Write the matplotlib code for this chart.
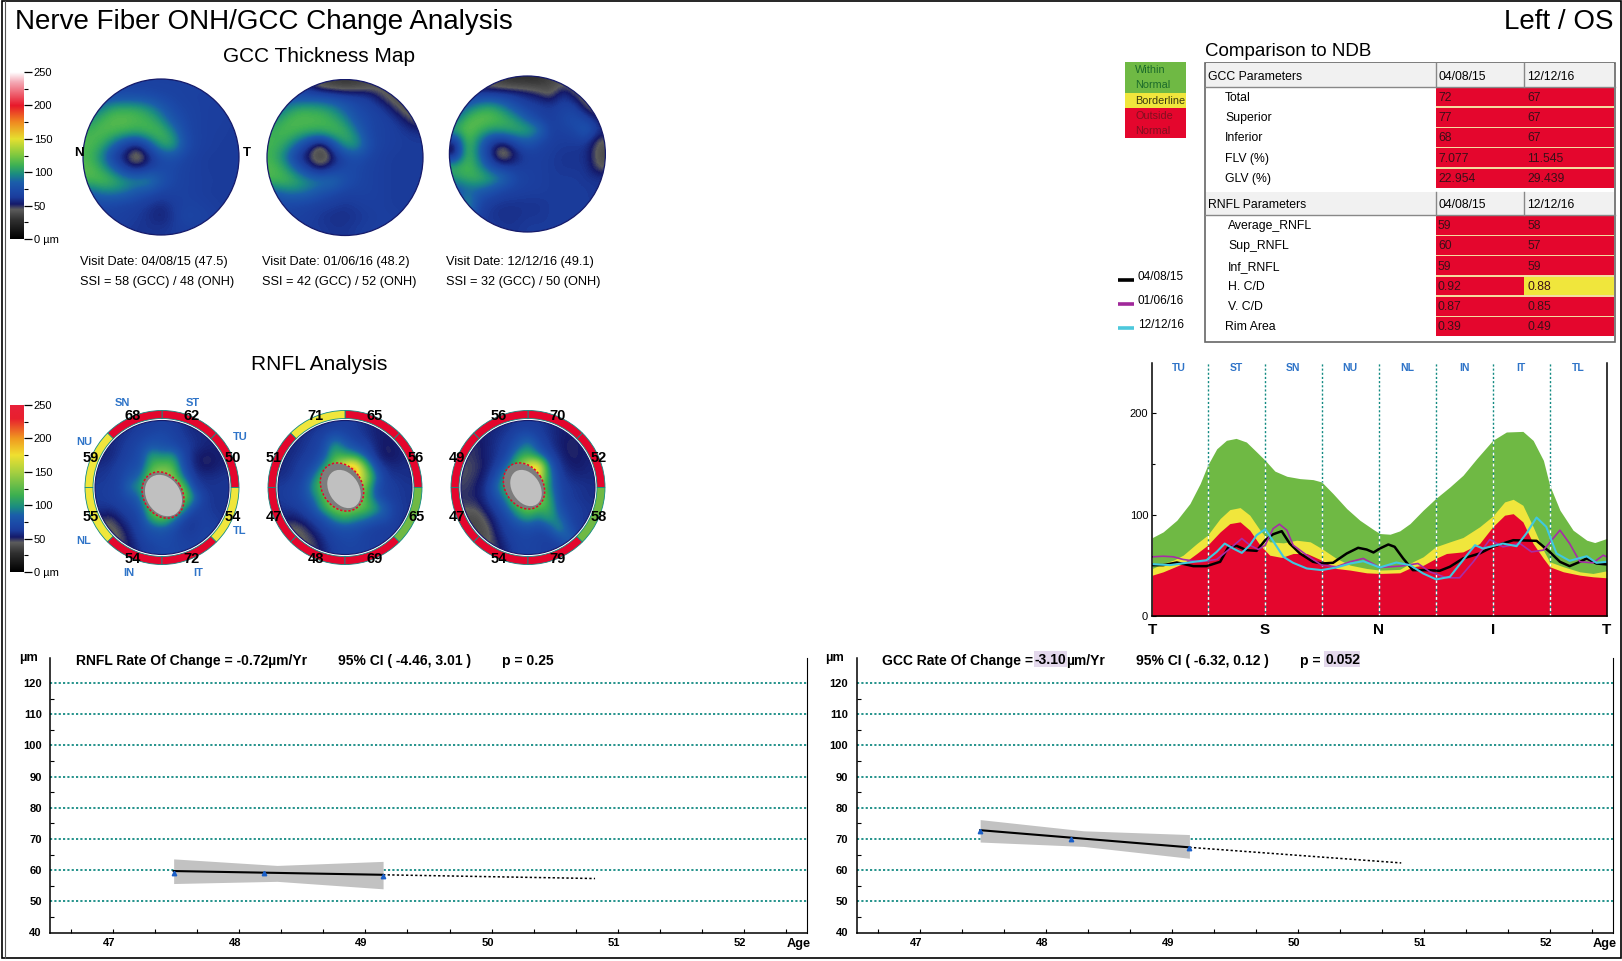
import numpy as np
import matplotlib
matplotlib.use('Agg')
import matplotlib.pyplot as plt
from matplotlib.colors import LinearSegmentedColormap, Normalize
from matplotlib.patches import Circle, Wedge, Ellipse, Rectangle
from matplotlib.transforms import ScaledTranslation

plt.rcParams['font.family'] = ['Liberation Sans', 'DejaVu Sans']

W, H = 1622, 961

# thickness maps, rows top to bottom, um
gcc_map_1 = [
    [66, 66, 66, 66, 66, 66, 66, 66, 66, 66, 66, 66, 66],
    [70, 72, 75, 76, 76, 74, 70, 68, 66, 65, 65, 64, 64],
    [80, 95, 108, 110, 108, 100, 85, 72, 68, 66, 64, 64, 64],
    [100, 112, 118, 118, 115, 112, 100, 80, 70, 66, 64, 64, 62],
    [112, 116, 112, 108, 105, 112, 115, 98, 72, 66, 64, 63, 62],
    [115, 108, 88, 64, 52, 76, 105, 108, 76, 66, 64, 62, 62],
    [112, 96, 64, 50, 30, 52, 72, 76, 68, 64, 62, 62, 62],
    [118, 108, 88, 64, 56, 66, 72, 70, 66, 64, 62, 62, 62],
    [112, 116, 112, 102, 98, 100, 80, 70, 66, 64, 63, 62, 62],
    [80, 90, 92, 88, 78, 72, 66, 66, 66, 64, 62, 62, 62],
    [68, 70, 68, 66, 64, 60, 56, 62, 66, 66, 64, 62, 62],
    [64, 66, 66, 64, 62, 58, 54, 60, 70, 68, 66, 64, 62],
    [62, 64, 64, 62, 60, 60, 60, 62, 64, 64, 64, 62, 62],
]
gcc_map_2 = [
    [66, 64, 60, 50, 36, 32, 30, 32, 36, 40, 40, 40, 40],
    [70, 72, 74, 76, 76, 72, 68, 66, 62, 48, 38, 36, 36],
    [80, 95, 108, 108, 106, 98, 84, 72, 68, 64, 52, 38, 36],
    [100, 112, 116, 116, 115, 110, 98, 78, 70, 66, 64, 54, 42],
    [110, 114, 110, 105, 105, 112, 112, 92, 70, 66, 64, 62, 60],
    [112, 105, 85, 60, 36, 72, 102, 104, 74, 66, 64, 62, 62],
    [110, 92, 60, 46, 30, 48, 68, 74, 68, 64, 62, 62, 62],
    [116, 106, 84, 62, 50, 64, 72, 70, 66, 64, 62, 62, 62],
    [112, 114, 108, 98, 94, 92, 76, 70, 66, 64, 62, 62, 62],
    [78, 88, 90, 86, 76, 70, 66, 66, 66, 64, 62, 62, 62],
    [68, 70, 68, 66, 64, 62, 60, 62, 64, 64, 62, 62, 62],
    [66, 66, 66, 64, 60, 58, 58, 60, 62, 64, 64, 62, 62],
    [64, 64, 64, 62, 62, 60, 60, 62, 64, 64, 64, 62, 62],
]
gcc_map_3 = [
    [40, 40, 40, 36, 30, 28, 28, 28, 35, 40, 40, 40, 40],
    [60, 60, 62, 62, 62, 60, 56, 50, 40, 62, 45, 36, 32],
    [70, 85, 100, 105, 92, 75, 66, 64, 62, 66, 66, 42, 36],
    [85, 112, 120, 118, 112, 100, 80, 66, 62, 70, 74, 66, 50],
    [110, 120, 112, 102, 105, 110, 108, 95, 64, 66, 70, 85, 60],
    [50, 118, 92, 62, 52, 70, 82, 70, 64, 62, 62, 62, 40],
    [42, 118, 88, 54, 30, 50, 64, 64, 62, 60, 60, 58, 38],
    [110, 115, 100, 72, 60, 62, 64, 64, 62, 60, 60, 60, 40],
    [100, 110, 112, 105, 92, 72, 66, 64, 62, 62, 62, 60, 60],
    [76, 85, 85, 78, 68, 66, 64, 64, 62, 62, 62, 62, 60],
    [70, 105, 70, 62, 60, 60, 60, 60, 62, 62, 62, 62, 60],
    [62, 100, 64, 60, 58, 58, 60, 60, 62, 62, 62, 62, 62],
    [62, 62, 62, 62, 60, 60, 62, 62, 62, 62, 62, 62, 62],
]
rnfl_map_1 = [
    [58, 58, 58, 60, 62, 64, 66, 64, 60, 56, 56, 56, 56],
    [55, 56, 58, 62, 66, 70, 72, 68, 62, 58, 56, 56, 54],
    [54, 56, 60, 66, 72, 80, 76, 72, 66, 60, 56, 54, 54],
    [54, 56, 62, 68, 74, 108, 96, 104, 72, 56, 50, 52, 54],
    [58, 60, 66, 72, 76, 118, 130, 125, 76, 58, 50, 52, 56],
    [60, 62, 68, 78, 90, 140, 150, 140, 90, 62, 58, 58, 60],
    [62, 64, 68, 95, 100, 150, 150, 150, 135, 70, 60, 60, 60],
    [62, 64, 68, 75, 90, 150, 150, 150, 140, 100, 64, 60, 60],
    [60, 60, 64, 68, 78, 130, 150, 150, 110, 72, 64, 60, 60],
    [52, 46, 58, 64, 70, 110, 130, 100, 72, 60, 66, 62, 60],
    [42, 40, 48, 60, 70, 78, 82, 74, 62, 60, 66, 66, 60],
    [44, 42, 44, 55, 66, 72, 74, 70, 66, 64, 68, 66, 62],
    [52, 48, 48, 52, 62, 66, 70, 70, 68, 66, 66, 64, 62],
]
rnfl_map_2 = [
    [56, 56, 56, 58, 60, 62, 64, 62, 58, 54, 54, 54, 56],
    [55, 56, 58, 62, 68, 78, 70, 64, 60, 54, 52, 54, 56],
    [55, 56, 60, 64, 72, 105, 85, 72, 66, 56, 50, 54, 56],
    [56, 58, 62, 66, 78, 118, 110, 105, 78, 58, 50, 52, 56],
    [56, 60, 66, 72, 100, 135, 190, 205, 125, 70, 58, 56, 58],
    [58, 62, 68, 90, 125, 170, 180, 190, 150, 90, 62, 60, 58],
    [62, 66, 72, 105, 130, 160, 160, 160, 130, 75, 66, 62, 60],
    [62, 66, 72, 90, 120, 150, 150, 150, 120, 78, 66, 62, 60],
    [60, 62, 66, 78, 112, 135, 140, 135, 125, 105, 80, 64, 60],
    [55, 52, 60, 66, 76, 100, 112, 100, 92, 80, 76, 62, 60],
    [46, 42, 46, 58, 66, 72, 76, 74, 68, 64, 62, 62, 60],
    [48, 42, 42, 48, 60, 68, 70, 70, 66, 64, 64, 62, 60],
    [54, 50, 46, 46, 56, 64, 68, 68, 66, 64, 62, 62, 60],
]
rnfl_map_3 = [
    [54, 54, 54, 56, 58, 62, 62, 62, 58, 54, 54, 54, 54],
    [52, 52, 54, 58, 62, 72, 76, 66, 60, 54, 52, 52, 54],
    [48, 50, 54, 60, 66, 80, 100, 74, 62, 54, 50, 52, 54],
    [48, 50, 54, 60, 70, 105, 115, 95, 70, 58, 50, 52, 54],
    [46, 48, 54, 64, 88, 125, 180, 200, 90, 62, 54, 52, 56],
    [46, 50, 56, 76, 110, 150, 175, 180, 100, 66, 58, 56, 56],
    [48, 52, 60, 90, 115, 150, 150, 150, 100, 70, 62, 60, 58],
    [50, 52, 60, 76, 100, 140, 150, 150, 110, 72, 62, 60, 58],
    [46, 46, 56, 66, 84, 115, 135, 120, 118, 76, 66, 62, 60],
    [38, 38, 48, 60, 70, 90, 104, 88, 108, 90, 68, 62, 60],
    [36, 36, 42, 56, 66, 70, 74, 70, 74, 105, 76, 62, 60],
    [40, 38, 40, 52, 62, 68, 68, 66, 64, 72, 90, 66, 62],
    [50, 46, 44, 48, 58, 66, 68, 66, 64, 62, 70, 68, 62],
]

visit_dates = ['04/08/15', '01/06/16', '12/12/16']
visit_ages = ['47.5', '48.2', '49.1']
ssi_gcc = [58, 42, 32]
ssi_onh = [48, 52, 50]

# ring sectors counter clockwise from 3 o'clock: TU ST SN NU NL IN IT TL
sector_names = ['TU', 'ST', 'SN', 'NU', 'NL', 'IN', 'IT', 'TL']
ring_values = [
    [50, 62, 68, 59, 55, 54, 72, 54],
    [56, 65, 71, 51, 47, 48, 69, 65],
    [52, 70, 56, 49, 47, 54, 79, 58],
]
ring_status = [
    ['r', 'r', 'r', 'y', 'y', 'r', 'r', 'y'],
    ['r', 'r', 'y', 'r', 'r', 'r', 'r', 'g'],
    ['r', 'r', 'r', 'r', 'r', 'r', 'r', 'g'],
]

gcc_rows = ['Total', 'Superior', 'Inferior', 'FLV (%)', 'GLV (%)']
gcc_first = ['72', '77', '68', '7.077', '22.954']
gcc_last = ['67', '67', '67', '11.545', '29.439']
rnfl_rows = ['Average_RNFL', 'Sup_RNFL', 'Inf_RNFL', 'H. C/D', 'V. C/D', 'Rim Area']
rnfl_first = ['59', '60', '59', '0.92', '0.87', '0.39']
rnfl_last = ['58', '57', '59', '0.88', '0.85', '0.49']
rnfl_last_status = ['r', 'r', 'r', 'y', 'r', 'r']

# TSNIT profile, x in sector widths (8 sectors)
green_x = [.03, .22, .46, .69, .87, 1, 1.16, 1.33, 1.5, 1.68, 1.86, 2.01, 2.18, 2.39, 2.62, 2.85, 3, 3.2, 3.44, 3.67,
           3.91, 4.02, 4.2, 4.37, 4.55, 4.78, 5, 5.25, 5.48, 5.72, 6, 6.24, 6.53, 6.71, 6.89, 7, 7.18, 7.41, 7.65, 7.79, 8]
green_top = [77.4, 83, 94.5, 111, 130.7, 148.7, 165, 173.4, 175.3, 171.7, 161.9, 153.6, 143, 137.9, 135.6, 134.6,
             132.3, 120.8, 106, 94.5, 85.3, 81.4, 80.7, 84, 91.2, 104.4, 115.9, 127.4, 138.9, 155.3, 173.3, 181.6,
             182.2, 173.3, 153.6, 129, 104.4, 84.7, 74.8, 72.5, 76.5]
yellow_x = [.03, .22, .4, .57, .81, 1, 1.22, 1.39, 1.57, 1.74, 1.92, 2.09, 2.33, 2.56, 2.8, 3, 3.26, 3.5, 3.79,
            4.02, 4.37, 4.6, 4.78, 5, 5.25, 5.48, 5.77, 6, 6.21, 6.36, 6.53, 6.71, 6.89, 7, 7.24, 7.53, 7.76, 8]
yellow_top = [46.9, 51.8, 55.1, 60, 71.5, 79.8, 96.2, 105, 107, 99.5, 84.7, 73.2, 72.2, 74.8, 73.2, 66.6, 56.8, 50.2,
              46.9, 45.3, 46, 53.5, 58.4, 68.3, 73.2, 77.5, 88, 98.5, 112.6, 115.2, 109.3, 88, 65, 53.5, 48.6, 43.6,
              42, 44.6]
red_x = [.03, .22, .57, .81, 1, 1.22, 1.39, 1.57, 1.74, 1.92, 2.09, 2.3, 2.5, 2.74, 3, 3.26, 3.5, 3.79,
         4.02, 4.37, 4.6, 4.78, 5, 5.19, 5.48, 5.77, 6, 6.21, 6.36, 6.53, 6.71, 6.89, 7, 7.24, 7.53, 7.76, 8]
red_top = [40.3, 43.6, 51.8, 61.7, 69.9, 83, 91.2, 92.9, 84.7, 69.9, 60, 57.8, 61.7, 61.7, 55.1, 46.9, 45.3, 42.6,
           42, 42.6, 48.6, 50, 56.8, 61.7, 63.3, 71.5, 88, 99.5, 101, 92.9, 71.5, 56.8, 48.6, 43.6, 40.3, 38.7, 37.7]
black_x = [.03, .22, .46, .75, .98, 1.22, 1.36, 1.51, 1.68, 1.86, 2.01, 2.15, 2.3, 2.44, 2.62, 2.85, 3, 3.2, 3.44,
           3.64, 3.79, 3.91, 4.02, 4.17, 4.28, 4.43, 4.6, 4.84, 5.07, 5.25, 5.48, 5.77, 6, 6.36, 6.77, 7, 7.18,
           7.35, 7.53, 7.65, 7.82, 8]
black_y = [50.2, 50.2, 52.8, 49.2, 49.2, 53.5, 67.6, 69.2, 65, 64.3, 74.8, 80.7, 83.7, 71.5, 61.7, 53.5, 51.8, 52.5,
           61.7, 67.3, 65.6, 62.7, 66.6, 70.6, 68.3, 56.8, 45.3, 45.3, 44.6, 48.6, 56.8, 61.7, 68.3, 74.8, 74.2,
           63.3, 53.5, 49.2, 53.5, 56.8, 51.8, 50.9]
purple_x = [.03, .22, .4, .57, .87, 1.16, 1.36, 1.6, 1.74, 1.89, 2.01, 2.15, 2.26, 2.39, 2.5, 2.74, 3, 3.26, 3.5,
            3.73, 4.02, 4.37, 4.69, 4.9, 5.19, 5.42, 5.66, 5.95, 6.18, 6.48, 6.68, 6.89, 7.18, 7.35, 7.53, 7.76,
            7.94, 8]
purple_y = [58.4, 59, 58.4, 55.8, 53.5, 55.8, 65, 76.5, 69.9, 65.6, 69.9, 86.3, 90.6, 84.7, 69.9, 60, 50.2, 48.6,
            53.5, 56.8, 47.9, 49.2, 51.8, 43.6, 37.7, 37.7, 53.5, 75.5, 68.3, 71.5, 63.3, 65, 84.7, 71.5, 53.5,
            52.5, 60, 58.4]
cyan_x = [.03, .34, .63, .98, 1.16, 1.3, 1.45, 1.6, 1.74, 1.86, 2.01, 2.12, 2.33, 2.5, 2.74, 3, 3.26, 3.5, 3.73,
          4.02, 4.31, 4.55, 4.78, 5.01, 5.25, 5.48, 5.69, 5.83, 6.18, 6.42, 6.59, 6.77, 6.94, 7.12, 7.35, 7.65,
          7.82, 8]
cyan_y = [51.2, 50.2, 52.5, 55.1, 63.3, 71.5, 66.6, 62.3, 69.9, 79.8, 85.7, 76.5, 58.4, 52.5, 46.9, 45.3, 47.9,
          51.8, 54.1, 47.9, 52.8, 50.2, 42, 36.1, 38.7, 55.1, 69.9, 66.6, 71.5, 68.9, 81.4, 97.2, 88, 61.7, 54.5,
          59, 52.5, 53.5]
sector_labels = ['TU', 'ST', 'SN', 'NU', 'NL', 'IN', 'IT', 'TL']

# rate of change trends
trend_ticks = [120, 110, 100, 90, 80, 70, 60, 50, 40]
ages = [47.48, 48.2, 49.14]
rnfl_points = [59, 59, 58]
rnfl_line_x = [47.48, 49.14]
rnfl_line_y = [59.7, 58.5]
rnfl_proj_x = [49.14, 50.82]
rnfl_proj_y = [58.5, 57.3]
rnfl_band_x = [47.48, 48.3, 49.14]
rnfl_band_low = [55.7, 56.4, 54.0]
rnfl_band_high = [63.6, 61.5, 62.8]
gcc_points = [72.5, 70, 67]
gcc_line_x = [47.48, 49.14]
gcc_line_y = [72.8, 67.3]
gcc_proj_x = [49.14, 50.82]
gcc_proj_y = [67.3, 62.3]
gcc_band_x = [47.48, 48.3, 49.14]
gcc_band_low = [69, 67.6, 63.8]
gcc_band_high = [76.2, 72.6, 71.4]

RED = '#e4062d'
YELLOW = '#f0e63c'
GREEN = '#6fb944'
TEAL = '#128a82'
BLUE = '#2f74c8'
status_colors = {'r': RED, 'y': YELLOW, 'g': GREEN}

low_stops = [(0, '#000000'), (28 / 250, '#303030'), (44 / 250, '#5c5c5c'), (52 / 250, '#151a6a'),
             (62 / 250, '#1b3c9c'), (72 / 250, '#1c4aa8'), (85 / 250, '#1b5eaa'), (97 / 250, '#1a8c82')]
gcc_cmap = LinearSegmentedColormap.from_list('gcc', low_stops + [
    (110 / 250, '#3cb055'), (125 / 250, '#7cc840'),
    (150 / 250, '#e6e030'), (175 / 250, '#f08a20'), (200 / 250, '#e8182a'), (235 / 250, '#f4a8b4'), (1, '#ffffff')])
rnfl_cmap = LinearSegmentedColormap.from_list('rnfl', low_stops + [
    (115 / 250, '#3cb050'), (150 / 250, '#a8d040'),
    (175 / 250, '#f0e030'), (200 / 250, '#f09a20'), (230 / 250, '#e8202e'), (1, '#e8203a')])
norm = Normalize(0, 250)

fig = plt.figure(figsize=(W / 100, H / 100), dpi=100, facecolor='white')


def px_axes(x0, y0, x1, y1, **kw):
    return fig.add_axes([x0 / W, 1 - y1 / H, (x1 - x0) / W, (y1 - y0) / H], **kw)


def colorbar(x0, x1, y_top, y_zero, cmap):
    ax = px_axes(x0, y_top, x1, y_zero)
    ax.imshow(np.linspace(250, 0, 256).reshape(-1, 1), cmap=cmap, norm=norm, aspect='auto',
              extent=(0, 1, 0, 250))
    ax.set_xticks([])
    ax.yaxis.tick_right()
    ax.set_yticks([0, 50, 100, 150, 200, 250], ['0 µm', '50', '100', '150', '200', '250'], fontsize=8)
    ax.set_yticks([25, 75, 125, 175, 225], minor=True)
    ax.tick_params(axis='y', length=6, width=0.9, pad=1)
    ax.tick_params(axis='y', which='minor', length=3, width=0.8)
    for s in ['top', 'bottom', 'right', 'left']:
        ax.spines[s].set_visible(False)


def gcc_panel(cx, cy, r, data):
    ax = px_axes(cx - r - 1, cy - r - 1, cx + r + 1, cy + r + 1)
    im = ax.imshow(data, cmap=gcc_cmap, norm=norm, interpolation='bicubic', extent=(-r, r, r, -r), aspect='auto')
    im.set_clip_path(Circle((0, 0), r, transform=ax.transData))
    ax.set_xlim(-r - 1, r + 1)
    ax.set_ylim(r + 1, -r - 1)
    ax.add_patch(Circle((0, 0), r, facecolor='none', edgecolor='#151a6a', lw=0.9))
    ax.axis('off')


def rnfl_panel(cx, cy, data, values, status, disc):
    R = 78
    ax = px_axes(cx - R, cy - R, cx + R, cy + R)
    im = ax.imshow(data, cmap=rnfl_cmap, norm=norm, interpolation='bicubic', extent=(-67, 67, 67, -67), aspect='auto')
    im.set_clip_path(Circle((0, 0), 67, transform=ax.transData))
    ax.set_xlim(-R, R)
    ax.set_ylim(R, -R)
    ax.axis('off')
    ax.add_patch(Circle((0, 0), 67, facecolor='none', edgecolor='#151a6a', lw=0.8))
    for i, st in enumerate(status):
        # y axis is inverted so angles run clockwise on screen
        ax.add_patch(Wedge((0, 0), 77, -45 * (i + 1), -45 * i, width=8, facecolor=status_colors[st],
                           edgecolor=TEAL, linewidth=0.6))
    dx, dy, long_ax, short_ax, rim, shift = disc
    ax.add_patch(Ellipse((dx, dy), long_ax, short_ax, angle=58, facecolor='#7d7d7d', edgecolor='none'))
    ax.add_patch(Ellipse((dx + shift, dy + shift), long_ax - rim, short_ax - rim, angle=58, facecolor='#c0c0c0',
                         edgecolor='none'))
    ax.add_patch(Ellipse((dx, dy), long_ax + 1, short_ax + 1, angle=58, facecolor='none', edgecolor=RED,
                         linewidth=1.1, linestyle=(0, (1.5, 1.2))))
    for i, v in enumerate(values):
        a = np.radians(22.5 + 45 * i)
        over.text(cx + 77 * np.cos(a), cy - 77 * np.sin(a), str(v), ha='center', va='center',
                  fontsize=10.5, fontweight='bold')


def trend_panel(x0, x1, points, lx, ly, px_, py_, bx, blow, bhigh):
    ax = px_axes(x0, 658, x1, 932.5)
    ax.set_xlim(46.5, 52.5)
    ax.set_ylim(40, 128)
    ax.set_yticks(trend_ticks, [str(v) for v in trend_ticks], fontsize=8, fontweight='bold')
    ax.set_yticks(np.arange(45, 125, 10), minor=True)
    ax.set_xticks(range(47, 53), [str(v) for v in range(47, 53)], fontsize=8, fontweight='bold')
    ax.set_xticks([a + b for a in range(46, 53) for b in (1 / 3, 2 / 3) if 46.5 < a + b < 52.5], minor=True)
    ax.tick_params(axis='both', which='both', direction='in', length=3, width=0.8, pad=4)
    ax.tick_params(axis='y', which='major', length=0, pad=6)
    ax.tick_params(axis='x', which='major', pad=4)
    ax.spines['top'].set_visible(False)
    ax.spines['right'].set_linewidth(0.8)
    for s in ['left', 'bottom']:
        ax.spines[s].set_linewidth(1.1)
    for lab in ax.get_xticklabels():
        lab.set_transform(lab.get_transform() + ScaledTranslation(-0.04, 0, fig.dpi_scale_trans))
    for v in trend_ticks[:-1]:
        ax.axhline(v, color=TEAL, lw=1.3, ls=(0, (1.2, 1.2)), zorder=1)
    ax.fill_between(bx, blow, bhigh, color='#c2c2c2', lw=0, zorder=2)
    ax.plot(lx, ly, color='black', lw=1.5, zorder=3)
    ax.plot(px_, py_, color='black', lw=1.1, ls=(0, (1.5, 1.5)), zorder=3)
    ax.plot(ages, points, ls='none', marker='^', ms=3.2, color='#1a5fc8', zorder=4)
    ax.patch.set_alpha(0)
    return ax


# overlay in pixel coords for the text, table and legend
over = px_axes(0, 0, W, H, zorder=5)
over.set_xlim(0, W)
over.set_ylim(H, 0)
over.axis('off')
over.patch.set_alpha(0)

colorbar(10, 24, 72, 239, gcc_cmap)
colorbar(10, 24, 405, 572, rnfl_cmap)

for cx, cy, data in [(161, 157, gcc_map_1), (345, 157.5, gcc_map_2), (527.4, 154, gcc_map_3)]:
    gcc_panel(cx, cy, 78, data)

rnfl_maps = [rnfl_map_1, rnfl_map_2, rnfl_map_3]
rnfl_centers = [(162, 487.5), (345, 487.5), (528, 487.5)]
discs = [(1, 7.5, 48, 38, 4, 0.5), (-3, -0.5, 50, 39, 9, 2), (-4, -1.5, 48, 37, 9, 2)]
for i in range(3):
    rnfl_panel(rnfl_centers[i][0], rnfl_centers[i][1], rnfl_maps[i], ring_values[i], ring_status[i], discs[i])

for x, name in [(79, 'N'), (246.5, 'T')]:
    over.text(x, 153, name, ha='center', va='center', fontsize=9.5, fontweight='bold')

over.text(15, 22, 'Nerve Fiber ONH/GCC Change Analysis', fontsize=20, va='center')
over.text(1613, 22, 'Left / OS', fontsize=20, va='center', ha='right')
over.text(319, 57, 'GCC Thickness Map', fontsize=15, va='center', ha='center')
over.text(319, 365, 'RNFL Analysis', fontsize=15, va='center', ha='center')

for i, x in enumerate([80, 262.5, 445.5]):
    over.text(x, 261.5, f'Visit Date: {visit_dates[i]} ({visit_ages[i]})', fontsize=9.2, va='center')
    over.text(x, 281.5, f'SSI = {ssi_gcc[i]} (GCC) / {ssi_onh[i]} (ONH)', fontsize=9.2, va='center')

sector_pos = {'SN': (122, 403), 'ST': (193, 403), 'TU': (240, 437), 'TL': (240, 531),
              'NU': (84, 442), 'NL': (84, 541), 'IN': (129, 573), 'IT': (198, 573)}
for name in sector_names:
    over.text(sector_pos[name][0], sector_pos[name][1], name, color=BLUE, fontsize=8, fontweight='bold',
              ha='center', va='center')

# status legend
over.add_patch(Rectangle((1125, 62.3), 61, 30.4, facecolor=GREEN, edgecolor='none'))
over.add_patch(Rectangle((1125, 92.7), 61, 15.3, facecolor=YELLOW, edgecolor='none'))
over.add_patch(Rectangle((1125, 108), 61, 30.3, facecolor=RED, edgecolor='none'))
over.text(1135, 70, 'Within', color='#1c6b2a', fontsize=7.8, va='center')
over.text(1135, 85.5, 'Normal', color='#1c6b2a', fontsize=7.8, va='center')
over.text(1135, 100.5, 'Borderline', color='#3a3a10', fontsize=7.8, va='center')
over.text(1135, 116, 'Outside', color='#801020', fontsize=7.8, va='center')
over.text(1135, 131, 'Normal', color='#801020', fontsize=7.8, va='center')

# visit line legend
for y, name, col in zip([280, 304, 328], visit_dates, ['black', '#a0289a', '#4cc8dc']):
    over.plot([1118, 1134], [y, y], color=col, lw=2.6, solid_capstyle='butt')
    over.text(1138, y - 3.5, name, fontsize=8.5, va='center')

# comparison table
over.text(1205, 51.5, 'Comparison to NDB', fontsize=13.5, va='center')
TX0, TX1, TX2, TX3 = 1205, 1436, 1524, 1615
over.add_patch(Rectangle((TX0, 62.7), TX3 - TX0, 279, facecolor='white', edgecolor='#666666', lw=1.2, zorder=1))


def table_header(y0, y1, name):
    over.add_patch(Rectangle((TX0 + 1, y0), TX3 - TX0 - 2, y1 - y0, facecolor='#f1f1f1', edgecolor='none', zorder=2))
    over.plot([TX0, TX3], [y1, y1], color='#888888', lw=1, zorder=3)
    for x in (TX1, TX2):
        over.plot([x, x], [y0, y1], color='#888888', lw=1, zorder=3)
    yc = (y0 + y1) / 2 + 1.5
    over.text(1208.5, yc, name, fontsize=8.8, va='center', zorder=4)
    over.text(1438.5, yc, visit_dates[0], fontsize=8.8, va='center', zorder=4)
    over.text(1527, yc, visit_dates[2], fontsize=8.8, va='center', zorder=4)


def table_rows(y_first, rows, first, last, last_status, label_x):
    over.add_patch(Rectangle((TX1, y_first - 9.3), TX3 - 1 - TX1, 20.3 * len(rows) - 1.4, facecolor='#f3dca0',
                             edgecolor='none', zorder=1.5))
    for i, name in enumerate(rows):
        y = y_first + i * 20.3
        over.add_patch(Rectangle((TX1, y - 9.3), TX2 - TX1, 18.9, facecolor=RED, edgecolor='none', zorder=2))
        over.add_patch(Rectangle((TX2, y - 9.3), TX3 - 1 - TX2, 18.9, facecolor=status_colors[last_status[i]],
                                 edgecolor='none', zorder=2))
        lx = label_x[i] if isinstance(label_x, list) else label_x
        over.text(lx, y + 1, name, fontsize=8.8, va='center', zorder=4)
        over.text(1438, y + 1, first[i], fontsize=8.8, va='center', color='#3a1018', zorder=4)
        over.text(1527, y + 1, last[i], fontsize=8.8, va='center', color='#3a1018', zorder=4)


table_header(63.3, 87.3, 'GCC Parameters')
table_rows(96.7, gcc_rows, gcc_first, gcc_last, ['r'] * 5, 1225)
table_header(192, 215, 'RNFL Parameters')
table_rows(225, rnfl_rows, rnfl_first, rnfl_last, rnfl_last_status, [1228] * 5 + [1225])

# TSNIT profile
tsnit = px_axes(1152.3, 362.7, 1606.7, 616)
tsnit.set_xlim(0.03, 8)
tsnit.set_ylim(0, 250)
tsnit.fill_between(green_x, 0, green_top, color=GREEN, lw=0)
tsnit.fill_between(yellow_x, 0, yellow_top, color=YELLOW, lw=0)
tsnit.fill_between(red_x, 0, red_top, color=RED, lw=0)
for i in range(1, 8):
    tsnit.plot([i, i], [0, 250], color=TEAL, lw=1, ls=(0, (1.5, 1.5)))
    top = np.interp(i, green_x, green_top)
    tsnit.plot([i, i], [0, top], color='white', lw=1, ls=(0, (2, 2)))
for i, name in enumerate(sector_labels):
    tsnit.text(i + 0.5, 245, name, color=BLUE, fontsize=7.5, fontweight='bold', ha='center', va='center')
tsnit.plot(black_x, black_y, color='black', lw=1.8, solid_joinstyle='round')
tsnit.plot(purple_x, purple_y, color='#a82ca6', lw=1.2, solid_joinstyle='round')
tsnit.plot(cyan_x, cyan_y, color='#3fc8e0', lw=1.5, solid_joinstyle='round')
tsnit.set_yticks([0, 100, 200], ['0', '100', '200'], fontsize=8)
tsnit.set_yticks([50, 150], minor=True)
tsnit.set_xticks([0.03, 2, 4, 6, 8], ['T', 'S', 'N', 'I', 'T'], fontsize=11, fontweight='bold')
tsnit.tick_params(axis='x', length=0, pad=5)
tsnit.tick_params(axis='y', direction='in', length=3, width=0.8, pad=3)
tsnit.tick_params(axis='y', which='minor', direction='in', length=2, width=0.8)
tsnit.spines['top'].set_visible(False)
for s in ['left', 'right', 'bottom']:
    tsnit.spines[s].set_linewidth(1.1)

# rate of change plots
trend_panel(50, 807, rnfl_points, rnfl_line_x, rnfl_line_y, rnfl_proj_x, rnfl_proj_y,
            rnfl_band_x, rnfl_band_low, rnfl_band_high)
trend_panel(856.6, 1613, gcc_points, gcc_line_x, gcc_line_y, gcc_proj_x, gcc_proj_y,
            gcc_band_x, gcc_band_low, gcc_band_high)


def bold(x, y, s, size=10):
    over.text(x, y, s, fontsize=size, fontweight='bold', va='center')


bold(19, 658, 'µm', 9.2)
bold(76, 660.5, 'RNFL Rate Of Change = -0.72µm/Yr')
bold(338, 660.5, '95% CI ( -4.46, 3.01 )')
bold(501.5, 660.5, 'p = 0.25')
bold(787, 944, 'Age', 9.2)
bold(825, 658, 'µm', 9.2)
over.add_patch(Rectangle((1034, 651), 32.5, 16, facecolor='#e4d8ec', edgecolor='none', zorder=0))
over.add_patch(Rectangle((1324, 651), 36, 16, facecolor='#e4d8ec', edgecolor='none', zorder=0))
bold(882.5, 660.5, 'GCC Rate Of Change =')
bold(1034.5, 660.5, '-3.10')
bold(1066, 660.5, 'µm/Yr')
bold(1136, 660.5, '95% CI ( -6.32, 0.12 )')
bold(1300, 660.5, 'p =')
bold(1325, 660.5, '0.052')
bold(1593, 944, 'Age', 9.2)

# window frame
over.add_patch(Rectangle((2, 1), W - 3, 957, facecolor='none', edgecolor='black', lw=1.2, zorder=6))
over.plot([4.5, 4.5], [1, 958], color='#555555', lw=0.8, zorder=6)

fig.savefig('out.png', dpi=100)
